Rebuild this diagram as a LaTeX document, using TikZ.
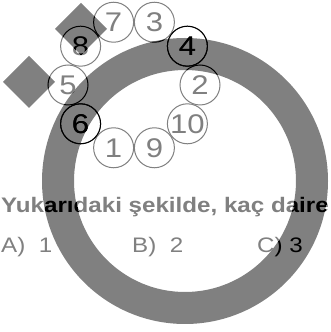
\documentclass[tikz,border=0pt]{standalone}
\usepackage{fontspec}
\newfontfamily\arialwide[FakeStretch=1.15]{Liberation Sans}
\definecolor{ringgray}{HTML}{808080}
\definecolor{inkgray}{HTML}{808080}

\tikzset{
  numcirc/.style={circle, line width=1pt, minimum size=40pt, inner sep=0pt, font=\arialwide\fontsize{27}{27}\selectfont},
  qtext/.style={anchor=base west, inner sep=0pt, font=\arialwide\bfseries\fontsize{21}{21}\selectfont},
  opttext/.style={anchor=base west, inner sep=0pt, font=\arialwide\fontsize{21}{21}\selectfont}
}

% everything that is printed, in one colour
\newcommand{\puzzle}[1]{%
  \foreach \n [count=\k from 0] in {2,4,3,7,8,5,6,1,9,10}
    \node[numcirc, draw=#1, text=#1] (circ\n) at ({134+66*cos(36*\k)},{247+66*sin(36*\k)}) {\n};
  \node[qtext, text=#1] (question) at (1,119) {Yukarıdaki şekilde, kaç daire};
  \node[opttext, text=#1] (optA) at (1,79) {A)~~1};
  \node[opttext, text=#1] (optB) at (132,79) {B)~~2};
  \node[opttext, text=#1] (optC) at (257,79) {C)~3};
}
\newcommand{\ringpath}{(185,151) circle [radius=143pt]
  (185,151) circle [radius=111pt]
  (81,329) -- (107,303) -- (81,277) -- (55,303) -- cycle
  (29,276) -- (55,250) -- (29,224) -- (3,250) -- cycle}

\begin{document}
\begin{tikzpicture}[x=1pt, y=1pt]
    \path[use as bounding box, fill=white] (0,0) rectangle (331,332);
    \fill[ringgray, even odd rule] \ringpath;
    \puzzle{inkgray}
    \begin{scope}[even odd rule]
        \clip \ringpath;
        \puzzle{black}
    \end{scope}
    \node[numcirc, draw=black] (circ4) at ({134+66*cos(36)},{247+66*sin(36)}) {4};
    \node[numcirc, draw=black] (circ6) at ({134+66*cos(216)},{247+66*sin(216)}) {6};
\end{tikzpicture}
\end{document}
